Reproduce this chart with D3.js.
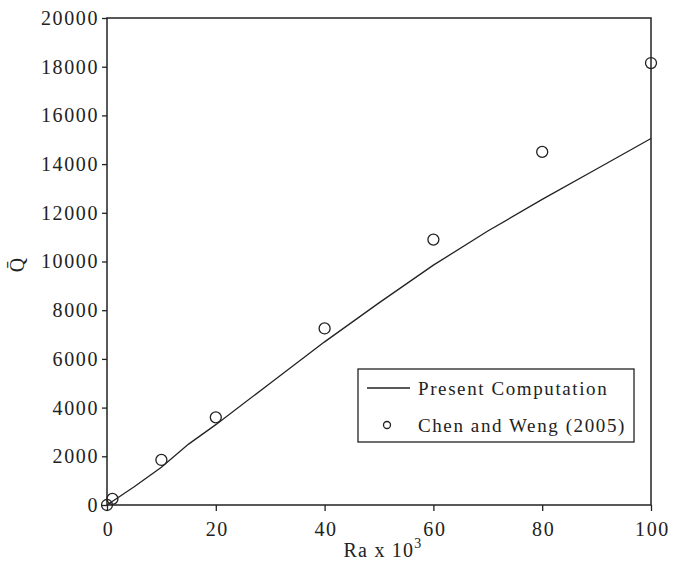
<!DOCTYPE html>
<html>
<head>
<meta charset="utf-8">
<script src="https://cdn.jsdelivr.net/npm/d3@7"></script>
<style>
  body { margin: 0; background: #fff; }
  text { font-family: "Liberation Serif", "DejaVu Serif", serif; fill: #222; }
</style>
</head>
<body>
<svg id="chart"></svg>
<script>
// Present Computation (line)
const lineX = [0, 5, 10, 15, 20, 30, 40, 50, 60, 70, 80, 90, 100];
const lineY = [0, 750, 1550, 2500, 3300, 5000, 6700, 8300, 9850, 11250, 12550, 13800, 15050];
// Chen and Weng (2005) (circles)
const pointX = [0, 1, 10, 20, 40, 60, 80, 100];
const pointY = [0, 250, 1850, 3600, 7250, 10900, 14500, 18150];

const xTicks = [0, 20, 40, 60, 80, 100];
const yTicks = [0, 2000, 4000, 6000, 8000, 10000, 12000, 14000, 16000, 18000, 20000];

const width = 683, height = 579;
const margin = {top: 18, right: 32, bottom: 74, left: 107};

const svg = d3.select("#chart").attr("width", width).attr("height", height);

const x = d3.scaleLinear().domain([0, 100]).range([margin.left, width - margin.right]);
const y = d3.scaleLinear().domain([0, 20000]).range([height - margin.bottom, margin.top]);

// frame
svg.append("rect")
    .attr("x", x(0)).attr("y", y(20000))
    .attr("width", x(100) - x(0)).attr("height", y(0) - y(20000))
    .attr("fill", "none").attr("stroke", "#222").attr("stroke-width", 1.5);

const xAxis = svg.append("g")
    .attr("transform", `translate(0,${y(0)})`)
    .call(d3.axisBottom(x).tickValues(xTicks).tickSize(6).tickPadding(6).tickFormat(d3.format("d")));
const yAxis = svg.append("g")
    .attr("transform", `translate(${x(0)},0)`)
    .call(d3.axisLeft(y).tickValues(yTicks).tickSize(5).tickPadding(3).tickFormat(d3.format("d")));

[xAxis, yAxis].forEach(a => {
    a.select(".domain").remove();
    a.selectAll("line").attr("stroke", "#222").attr("stroke-width", 1.3);
    a.selectAll("text").attr("font-size", 20).attr("fill", "#222")
        .attr("letter-spacing", 1.6)
        .style("font-family", '"Liberation Serif", serif');
});
xAxis.selectAll("text").attr("dy", "0.95em").attr("dx", 1);

// line
const line = d3.line().x((d, i) => x(lineX[i])).y(d => y(d));
svg.append("path")
    .datum(lineY)
    .attr("d", line)
    .attr("fill", "none")
    .attr("stroke", "#222")
    .attr("stroke-width", 1.3);

// points
svg.append("g").selectAll("circle")
    .data(pointY)
    .join("circle")
    .attr("cx", (d, i) => x(pointX[i]))
    .attr("cy", d => y(d))
    .attr("r", 5.5)
    .attr("fill", "none")
    .attr("stroke", "#222")
    .attr("stroke-width", 1.3);

// axis titles
const xt = svg.append("text")
    .attr("x", 383).attr("y", 557)
    .attr("text-anchor", "middle")
    .attr("letter-spacing", 1.2)
    .attr("font-size", 20);
xt.append("tspan").text("Ra x 10");
xt.append("tspan").attr("dy", -9).attr("font-size", 14).text("3");

svg.append("text")
    .attr("transform", "translate(24,265) rotate(-90)")
    .attr("text-anchor", "middle")
    .attr("font-size", 20)
    .text("Q\u0304");

// legend
const lg = svg.append("g");
lg.append("rect")
    .attr("x", 358).attr("y", 369).attr("width", 276).attr("height", 73)
    .attr("fill", "#fff").attr("stroke", "#222").attr("stroke-width", 1.3);
lg.append("line")
    .attr("x1", 367).attr("x2", 410).attr("y1", 388).attr("y2", 388)
    .attr("stroke", "#222").attr("stroke-width", 1.3);
lg.append("text").attr("x", 418).attr("y", 395).attr("font-size", 19)
    .attr("letter-spacing", 1.6).text("Present Computation");
lg.append("circle")
    .attr("cx", 387).attr("cy", 425).attr("r", 3.5)
    .attr("fill", "none").attr("stroke", "#222").attr("stroke-width", 1.3);
lg.append("text").attr("x", 418).attr("y", 432).attr("font-size", 19)
    .attr("letter-spacing", 1.6).text("Chen and Weng (2005)");
</script>
</body>
</html>
